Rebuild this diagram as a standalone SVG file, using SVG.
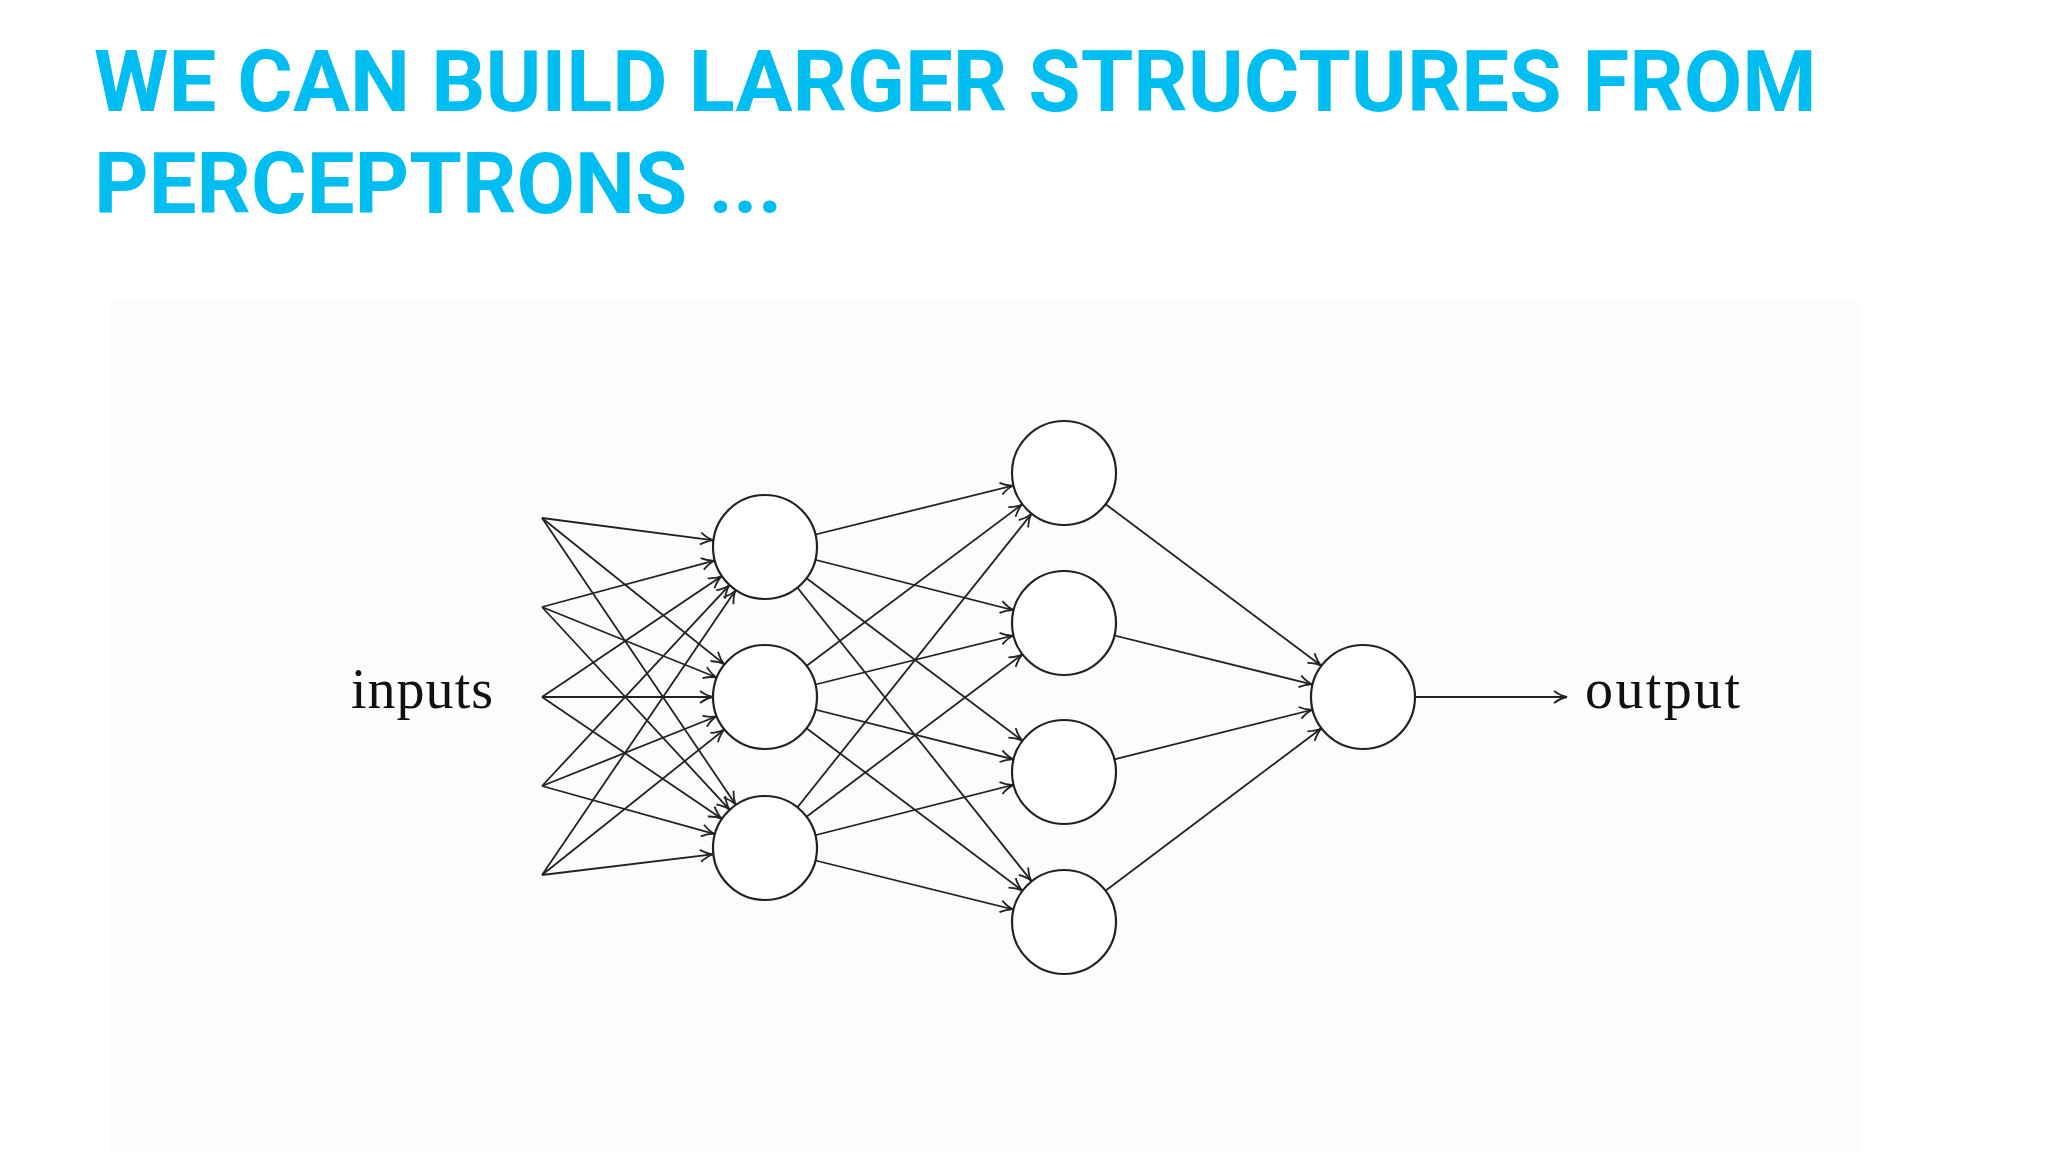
<svg xmlns="http://www.w3.org/2000/svg" width="2048" height="1152" viewBox="0 0 2048 1152">
<style>
.t{font-family:Roboto,"Liberation Sans",sans-serif;font-weight:bold;font-size:85px;fill:#00bdf2}
.l{font-family:"Liberation Serif","DejaVu Serif",serif;font-size:56px;fill:#111}
.e{stroke:#222;stroke-width:1.8;fill:none}
.n{fill:#fff;stroke:#222;stroke-width:2.2}
</style>
<defs>
<marker id="a" markerUnits="userSpaceOnUse" orient="auto" overflow="visible" markerWidth="1" markerHeight="1" refX="0" refY="0">
<path d="M-65,-6 Q-58,-1 -52,0 Q-58,1 -65,6" fill="none" stroke="#222" stroke-width="1.8"/>
</marker>
<marker id="b" markerUnits="userSpaceOnUse" orient="auto" overflow="visible" markerWidth="1" markerHeight="1" refX="0" refY="0">
<path d="M-13,-6 Q-6,-1 0,0 Q-6,1 -13,6" fill="none" stroke="#222" stroke-width="1.8"/>
</marker>
</defs>
<rect width="2048" height="1152" fill="#fff"/>
<rect x="110" y="300" width="1750" height="852" fill="#fcfbfd"/>
<text class="t" x="94" y="111">WE CAN BUILD LARGER STRUCTURES FROM</text>
<text class="t" x="94" y="213">PERCEPTRONS ...</text>
<g id="connectors" class="e" marker-end="url(#a)">
<line x1="542" y1="518" x2="765" y2="547"/><line x1="542" y1="518" x2="765" y2="697"/><line x1="542" y1="518" x2="765" y2="848"/>
<line x1="542" y1="607" x2="765" y2="547"/><line x1="542" y1="607" x2="765" y2="697"/><line x1="542" y1="607" x2="765" y2="848"/>
<line x1="542" y1="697" x2="765" y2="547"/><line x1="542" y1="697" x2="765" y2="697"/><line x1="542" y1="697" x2="765" y2="848"/>
<line x1="542" y1="786" x2="765" y2="547"/><line x1="542" y1="786" x2="765" y2="697"/><line x1="542" y1="786" x2="765" y2="848"/>
<line x1="542" y1="875" x2="765" y2="547"/><line x1="542" y1="875" x2="765" y2="697"/><line x1="542" y1="875" x2="765" y2="848"/>
<line x1="765" y1="547" x2="1064" y2="473"/><line x1="765" y1="547" x2="1064" y2="623"/><line x1="765" y1="547" x2="1064" y2="772"/><line x1="765" y1="547" x2="1064" y2="922"/>
<line x1="765" y1="697" x2="1064" y2="473"/><line x1="765" y1="697" x2="1064" y2="623"/><line x1="765" y1="697" x2="1064" y2="772"/><line x1="765" y1="697" x2="1064" y2="922"/>
<line x1="765" y1="848" x2="1064" y2="473"/><line x1="765" y1="848" x2="1064" y2="623"/><line x1="765" y1="848" x2="1064" y2="772"/><line x1="765" y1="848" x2="1064" y2="922"/>
<line x1="1064" y1="473" x2="1363" y2="697"/><line x1="1064" y1="623" x2="1363" y2="697"/><line x1="1064" y1="772" x2="1363" y2="697"/><line x1="1064" y1="922" x2="1363" y2="697"/>
<line x1="1416" y1="697" x2="1567" y2="697" marker-end="url(#b)"/>
</g>
<g id="layer1"><circle class="n" cx="765" cy="547" r="52"/><circle class="n" cx="765" cy="697" r="52"/><circle class="n" cx="765" cy="848" r="52"/></g>
<g id="layer2"><circle class="n" cx="1064" cy="473" r="52"/><circle class="n" cx="1064" cy="623" r="52"/><circle class="n" cx="1064" cy="772" r="52"/><circle class="n" cx="1064" cy="922" r="52"/></g>
<g id="outnode"><circle class="n" cx="1363" cy="697" r="52"/></g>
<g id="labels"><text class="l" x="351" y="708" textLength="142">inputs</text><text class="l" x="1585" y="708" textLength="155">output</text></g>
</svg>
